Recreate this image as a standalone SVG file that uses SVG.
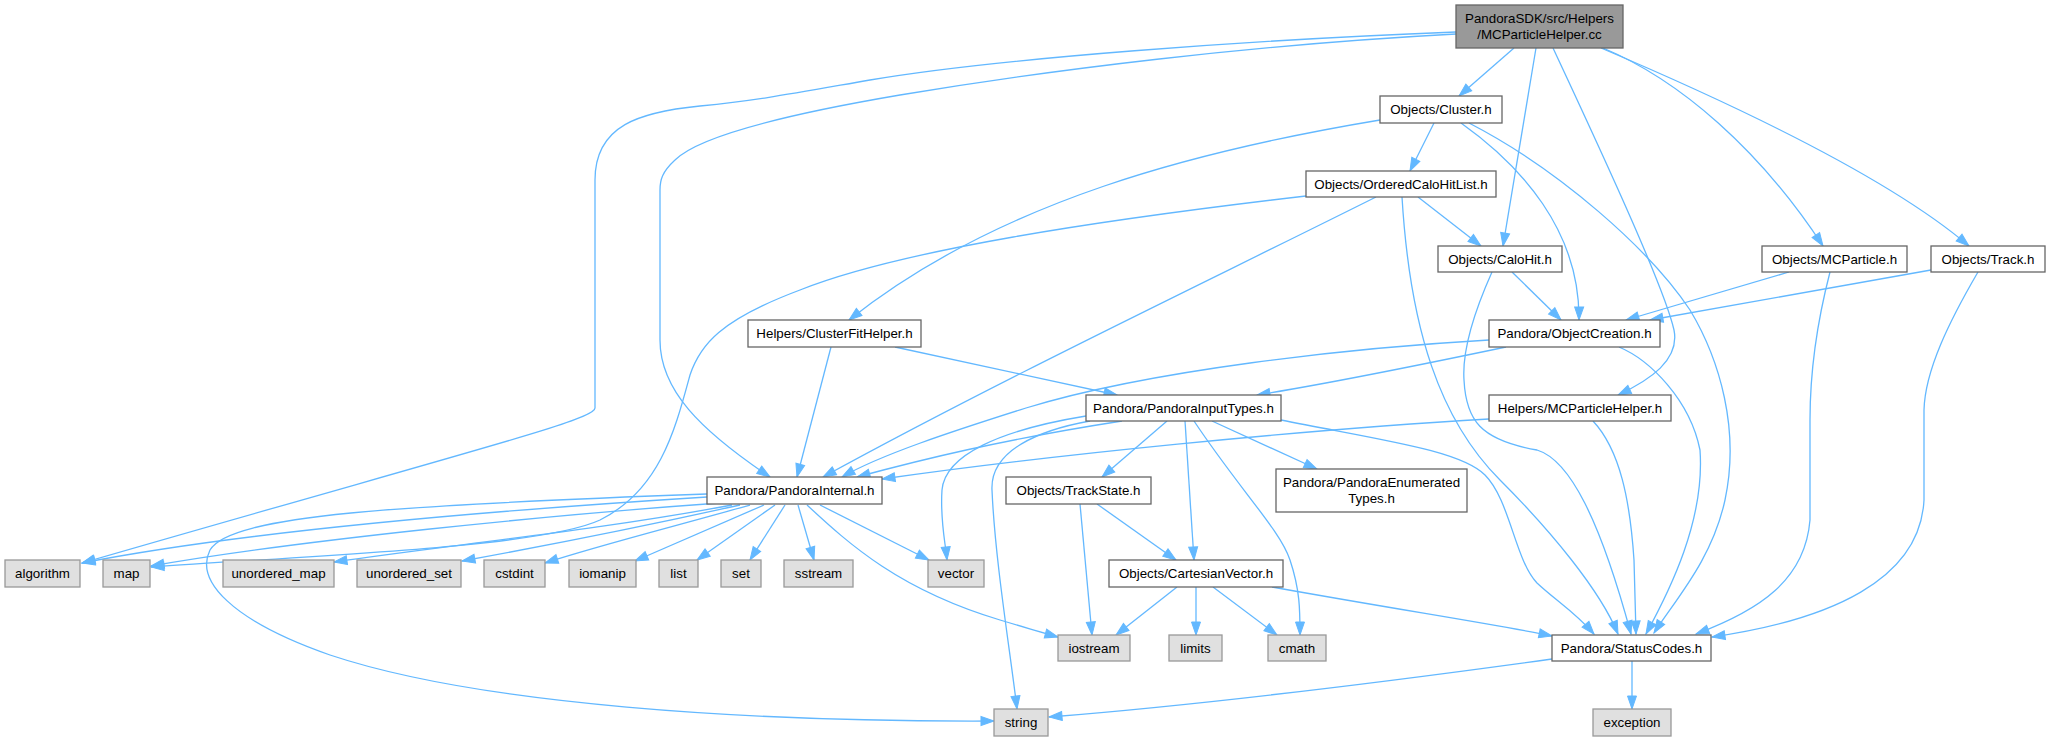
<svg xmlns="http://www.w3.org/2000/svg" width="2050" height="741" viewBox="0 0 2050 741">
<style>
.n rect{fill:#ffffff;stroke:#666666;stroke-width:1.3}
.g rect{fill:#e0e0e0;stroke:#999999;stroke-width:1.3}
.r rect{fill:#999999;stroke:#666666;stroke-width:1.3}
text{font-family:"Liberation Sans",Arial,sans-serif;font-size:13.33px;fill:#000000;text-anchor:middle}
#edges path{fill:none;stroke:#63b8ff;stroke-width:1.3;marker-end:url(#a)}
</style>
<defs>
<marker id="a" markerUnits="userSpaceOnUse" markerWidth="15" markerHeight="11" refX="13" refY="5" orient="auto" overflow="visible">
<path d="M0,0.5 L13,5 L0,9.5 z" fill="#63b8ff" stroke="#63b8ff" stroke-width="1"/>
</marker>
</defs>
<rect width="2050" height="741" fill="#ffffff"/>
<g id="edges">
<path d="M1456,32 C1250,40 1000,58 870,80 C790,94 760,100 700,106 C640,112 595,125 595,180 L595,408 C595,420 480,448 82,563"/>
<path d="M1456,34 C1250,45 1050,70 900,95 C800,112 700,135 675,160 C662,172 660,180 660,190 L660,340 C660,390 700,430 770,477"/>
<path d="M1514,48 L1459,96"/>
<path d="M1536,48 L1503,246"/>
<path d="M1553,48 C1610,170 1665,290 1674,330 C1680,360 1650,380 1618,395"/>
<path d="M1603,48 C1680,80 1760,150 1823,246"/>
<path d="M1601,48 C1700,90 1880,170 1969,246"/>
<path d="M1380,120 C1200,150 1000,200 849,320"/>
<path d="M1434,123 L1410,171"/>
<path d="M1461,123 C1520,165 1580,230 1579,320"/>
<path d="M1469,123 C1560,170 1650,250 1690,310 C1720,360 1740,430 1725,500 C1712,560 1675,600 1654,633"/>
<path d="M1418,197 L1481,246"/>
<path d="M1306,196 C1100,220 900,250 800,290 C720,320 700,345 690,375 C675,430 660,490 600,520 C540,548 300,556 151,567"/>
<path d="M1376,197 C1200,285 1000,380 823,477"/>
<path d="M1402,197 C1410,330 1440,420 1500,480 C1550,530 1600,590 1618,634"/>
<path d="M1512,272 L1561,320"/>
<path d="M1492,272 C1475,310 1462,350 1464,380 C1466,420 1480,440 1537,450 C1570,460 1600,520 1631,634"/>
<path d="M1789,272 L1626,320"/>
<path d="M1830,272 C1815,330 1810,380 1810,420 L1810,520 C1805,580 1760,610 1696,634"/>
<path d="M1931,270 L1650,320"/>
<path d="M1978,272 C1950,320 1925,370 1924,410 L1924,500 C1920,580 1830,620 1712,637"/>
<path d="M831,347 L797,477"/>
<path d="M895,347 L1117,395"/>
<path d="M1489,340 C1350,348 1150,370 1026,408 C950,432 880,455 842,477"/>
<path d="M1506,347 C1420,365 1320,385 1257,395"/>
<path d="M1619,347 C1650,360 1690,400 1700,450 C1705,520 1670,590 1646,634"/>
<path d="M1122,421 C1000,440 920,460 857,477"/>
<path d="M1086,416 C1000,430 945,455 942,490 C940,520 945,540 947,560"/>
<path d="M1090,421 C1040,430 990,450 992,490 C995,560 1010,650 1017,709"/>
<path d="M1167,421 L1102,477"/>
<path d="M1185,421 L1194,560"/>
<path d="M1194,421 C1240,490 1280,530 1290,560 C1300,590 1300,610 1300,635"/>
<path d="M1212,421 L1317,469"/>
<path d="M1281,420 C1380,440 1460,450 1485,475 C1510,500 1515,560 1537,583 C1555,600 1575,612 1594,634"/>
<path d="M1489,419 C1300,430 1050,455 882,479"/>
<path d="M1593,421 C1620,450 1630,500 1634,560 L1636,634"/>
<path d="M707,497 C500,510 250,530 82,563"/>
<path d="M720,503 C550,515 300,540 151,566"/>
<path d="M732,505 C600,530 450,545 334,562"/>
<path d="M740,505 C650,525 550,545 462,561"/>
<path d="M750,505 C680,525 600,545 545,563"/>
<path d="M764,505 L635,561"/>
<path d="M775,505 L697,560"/>
<path d="M785,505 L750,560"/>
<path d="M798,505 L814,560"/>
<path d="M820,505 L929,560"/>
<path d="M807,505 C850,545 900,590 1000,620 C1020,626 1040,632 1058,637"/>
<path d="M707,494 C400,505 230,515 210,550 C195,580 230,620 330,655 C480,705 750,722 994,721"/>
<path d="M1080,504 L1092,635"/>
<path d="M1097,504 L1176,560"/>
<path d="M1177,587 L1116,635"/>
<path d="M1196,587 L1196,635"/>
<path d="M1213,587 L1277,635"/>
<path d="M1272,587 C1400,610 1500,625 1552,636"/>
<path d="M1632,661 L1632,709"/>
<path d="M1552,659 C1400,680 1200,705 1049,717"/>
</g>
<g id="node-main" class="r"><rect x="1456" y="5" width="167" height="43"/><text x="1539.5" y="23">PandoraSDK/src/Helpers</text><text x="1539.5" y="39">/MCParticleHelper.cc</text></g>
<g id="node-cluster" class="n"><rect x="1380" y="96" width="122" height="27"/><text x="1441" y="114">Objects/Cluster.h</text></g>
<g id="node-orderedcalohitlist" class="n"><rect x="1306" y="171" width="190" height="26"/><text x="1401" y="189">Objects/OrderedCaloHitList.h</text></g>
<g id="node-calohit" class="n"><rect x="1438" y="246" width="124" height="26"/><text x="1500" y="264">Objects/CaloHit.h</text></g>
<g id="node-mcparticle" class="n"><rect x="1762" y="246" width="145" height="26"/><text x="1834.5" y="264">Objects/MCParticle.h</text></g>
<g id="node-track" class="n"><rect x="1931" y="246" width="114" height="26"/><text x="1988" y="264">Objects/Track.h</text></g>
<g id="node-clusterfithelper" class="n"><rect x="748" y="320" width="173" height="27"/><text x="834.5" y="338">Helpers/ClusterFitHelper.h</text></g>
<g id="node-objectcreation" class="n"><rect x="1489" y="320" width="171" height="27"/><text x="1574.5" y="338">Pandora/ObjectCreation.h</text></g>
<g id="node-pandorainputtypes" class="n"><rect x="1086" y="395" width="195" height="26"/><text x="1183.5" y="413">Pandora/PandoraInputTypes.h</text></g>
<g id="node-mcparticlehelper" class="n"><rect x="1489" y="395" width="182" height="26"/><text x="1580" y="413">Helpers/MCParticleHelper.h</text></g>
<g id="node-pandorainternal" class="n"><rect x="707" y="477" width="175" height="27"/><text x="794.5" y="495">Pandora/PandoraInternal.h</text></g>
<g id="node-trackstate" class="n"><rect x="1006" y="477" width="145" height="27"/><text x="1078.5" y="495">Objects/TrackState.h</text></g>
<g id="node-pandoraenumeratedtypes" class="n"><rect x="1276" y="469" width="191" height="43"/><text x="1371.5" y="487">Pandora/PandoraEnumerated</text><text x="1371.5" y="503">Types.h</text></g>
<g id="node-algorithm" class="g"><rect x="5" y="560" width="75" height="27"/><text x="42.5" y="578">algorithm</text></g>
<g id="node-map" class="g"><rect x="103" y="560" width="47" height="27"/><text x="126.5" y="578">map</text></g>
<g id="node-unordered_map" class="g"><rect x="223" y="560" width="111" height="27"/><text x="278.5" y="578">unordered_map</text></g>
<g id="node-unordered_set" class="g"><rect x="357" y="560" width="104" height="27"/><text x="409" y="578">unordered_set</text></g>
<g id="node-cstdint" class="g"><rect x="484" y="560" width="61" height="27"/><text x="514.5" y="578">cstdint</text></g>
<g id="node-iomanip" class="g"><rect x="569" y="560" width="67" height="27"/><text x="602.5" y="578">iomanip</text></g>
<g id="node-list" class="g"><rect x="659" y="560" width="39" height="27"/><text x="678.5" y="578">list</text></g>
<g id="node-set" class="g"><rect x="721" y="560" width="40" height="27"/><text x="741" y="578">set</text></g>
<g id="node-sstream" class="g"><rect x="784" y="560" width="69" height="27"/><text x="818.5" y="578">sstream</text></g>
<g id="node-vector" class="g"><rect x="928" y="560" width="56" height="27"/><text x="956" y="578">vector</text></g>
<g id="node-cartesianvector" class="n"><rect x="1109" y="560" width="174" height="27"/><text x="1196" y="578">Objects/CartesianVector.h</text></g>
<g id="node-iostream" class="g"><rect x="1058" y="635" width="72" height="26"/><text x="1094" y="653">iostream</text></g>
<g id="node-limits" class="g"><rect x="1169" y="635" width="53" height="26"/><text x="1195.5" y="653">limits</text></g>
<g id="node-cmath" class="g"><rect x="1268" y="635" width="58" height="26"/><text x="1297" y="653">cmath</text></g>
<g id="node-statuscodes" class="n"><rect x="1552" y="635" width="159" height="26"/><text x="1631.5" y="653">Pandora/StatusCodes.h</text></g>
<g id="node-string" class="g"><rect x="994" y="709" width="54" height="27"/><text x="1021" y="727">string</text></g>
<g id="node-exception" class="g"><rect x="1593" y="709" width="78" height="27"/><text x="1632" y="727">exception</text></g>
</svg>
